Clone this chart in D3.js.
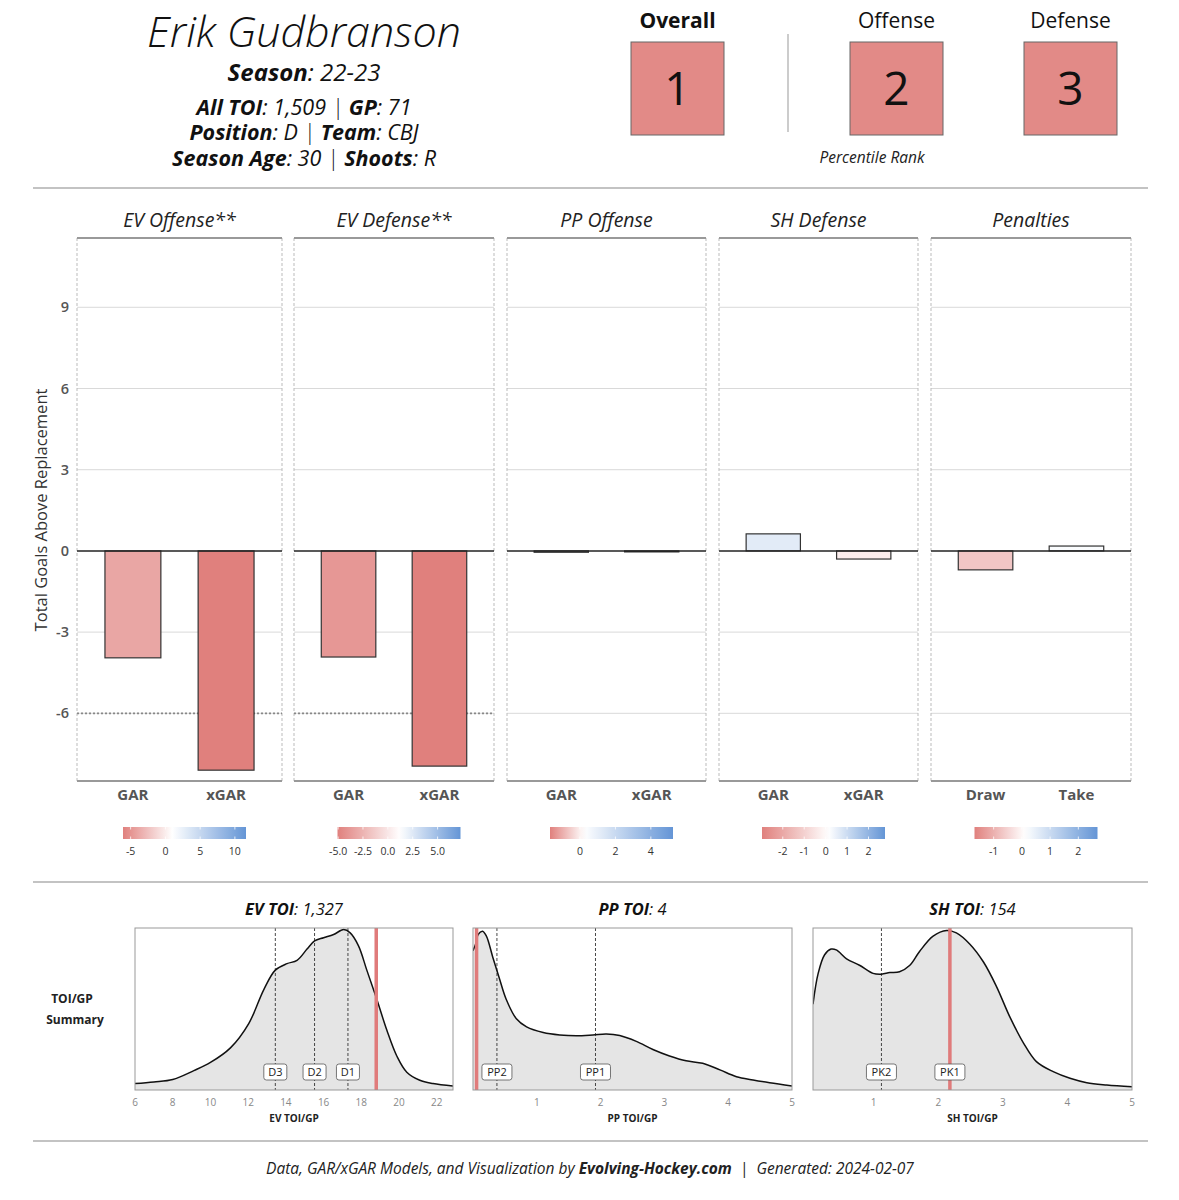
<!DOCTYPE html>
<html><head><meta charset="utf-8">
<script src="https://cdn.jsdelivr.net/npm/d3@7"></script>
<style>
body{margin:0;background:#fff;}
svg{font-family:"Open Sans","Noto Sans",sans-serif;}
</style></head>
<body>
<svg id="c" width="1179" height="1200"></svg>
<script>
// ---------- DATA ----------
const playerName = "Erik Gudbranson";
const infoLines = [
  [["Season", "22-23"]],
  [["All TOI", "1,509"], ["GP", "71"]],
  [["Position", "D"], ["Team", "CBJ"]],
  [["Season Age", "30"], ["Shoots", "R"]]
];
const rankLabels = ["Overall", "Offense", "Defense"];
const rankValues = [1, 2, 3];

const facetTitles = ["EV Offense**", "EV Defense**", "PP Offense", "SH Defense", "Penalties"];
const facetCategories = [["GAR","xGAR"],["GAR","xGAR"],["GAR","xGAR"],["GAR","xGAR"],["Draw","Take"]];
const facetValues = [[-3.95,-8.1],[-3.92,-7.95],[-0.05,-0.02],[0.63,-0.3],[-0.7,0.18]];
const replacementLevel = [-6, -6, null, null, null];
const yTicks = [-6, -3, 0, 3, 6, 9];
const legendDomains = [[-6.1,1.0,11.6],[-5.06,1.2,7.3],[-1.69,0.23,5.25],[-2.97,0.13,2.77],[-1.68,0.1,2.68]];
const legendTickValues = [[-5,0,5,10],[-5,-2.5,0,2.5,5],[0,2,4],[-2,-1,0,1,2],[-1,0,1,2]];
const legendTickLabels = [["-5","0","5","10"],["-5.0","-2.5","0.0","2.5","5.0"],["0","2","4"],["-2","-1","0","1","2"],["-1","0","1","2"]];

const toiTitles = [["EV TOI","1,327"],["PP TOI","4"],["SH TOI","154"]];
const toiAxisTitles = ["EV TOI/GP","PP TOI/GP","SH TOI/GP"];
const toiDomains = [[6,22.86],[0,5],[0.06,5]];
const toiTicks = [[6,8,10,12,14,16,18,20,22],[1,2,3,4,5],[1,2,3,4,5]];
const toiPlayer = [18.79, 0.056, 2.18];
const toiRefNames = [["D3","D2","D1"],["PP2","PP1"],["PK2","PK1"]];
const toiRefValues = [[13.44,15.52,17.29],[0.375,1.92],[1.12,2.18]];
const evDensX = [6,7,8,9.12,10,11.06,12.03,12.83,13.44,14.06,14.59,15.12,15.52,16,16.53,17.06,17.41,17.85,18.29,18.82,19.35,19.88,20.41,21.1,21.8,22.86];
const evDensY = [0.04,0.05,0.065,0.12,0.17,0.26,0.41,0.62,0.74,0.78,0.80,0.87,0.92,0.94,0.96,0.99,0.97,0.89,0.74,0.56,0.37,0.21,0.11,0.06,0.04,0.025];
const ppDensX = [0,0.04,0.08,0.15,0.21,0.31,0.42,0.52,0.68,0.84,1.10,1.36,1.62,1.88,2.09,2.30,2.56,2.82,3.08,3.34,3.60,3.87,4.13,4.39,4.65,5.0];
const ppDensY = [0.86,0.90,0.96,0.98,0.95,0.82,0.68,0.56,0.44,0.39,0.355,0.34,0.335,0.34,0.346,0.336,0.30,0.25,0.21,0.18,0.165,0.124,0.082,0.062,0.045,0.025];
const shDensX = [0.06,0.14,0.24,0.34,0.42,0.58,0.78,0.99,1.12,1.25,1.40,1.56,1.71,1.92,2.13,2.28,2.49,2.70,2.90,3.11,3.32,3.52,3.78,4.04,4.30,4.61,5.0];
const shDensY = [0.53,0.72,0.835,0.87,0.865,0.81,0.77,0.72,0.715,0.725,0.73,0.77,0.855,0.95,0.985,0.97,0.90,0.79,0.64,0.45,0.29,0.175,0.113,0.072,0.045,0.031,0.02];
const toiDensX = [evDensX, ppDensX, shDensX];
const toiDensY = [evDensY, ppDensY, shDensY];
const footerParts = [["Data, GAR/xGAR Models, and Visualization by ",400],["Evolving-Hockey.com",700],["  |  Generated: 2024-02-07",400]];

// ---------- DRAW ----------
const svg = d3.select("#c");
const RED = "#E0807D", BLUE = "#6495D6";

// header
svg.append("text").attr("x",304).attr("y",47).attr("text-anchor","middle")
  .attr("font-size",43).attr("font-style","italic").attr("font-weight",300).attr("fill","#111").text(playerName);
const lineY = [81,115,140,166];
const lineSize = [24,21.5,21.5,21.5];
infoLines.forEach((parts,i)=>{
  const t = svg.append("text").attr("x",304).attr("y",lineY[i]).attr("text-anchor","middle")
    .attr("font-size",lineSize[i]).attr("font-style","italic").attr("fill","#111");
  parts.forEach((p,j)=>{
    if(j>0) t.append("tspan").attr("font-weight",300).text(" | ");
    t.append("tspan").attr("font-weight",700).text(p[0]);
    t.append("tspan").attr("font-weight",400).text(": "+p[1]);
  });
});

// rank boxes
const rankX = [677.5, 896.5, 1070.5];
rankLabels.forEach((l,i)=>{
  svg.append("text").attr("x",rankX[i]).attr("y",28).attr("text-anchor","middle")
    .attr("font-size",21).attr("font-weight",i===0?700:400).attr("fill","#111").text(l);
  svg.append("rect").attr("x",rankX[i]-46.5).attr("y",42).attr("width",93).attr("height",93)
    .attr("fill","#E28A87").attr("stroke","#666").attr("stroke-width",1);
  svg.append("text").attr("x",rankX[i]).attr("y",89).attr("dy","0.35em").attr("text-anchor","middle")
    .attr("font-size",46).attr("fill","#111").text(rankValues[i]);
});
svg.append("line").attr("x1",788).attr("x2",788).attr("y1",34).attr("y2",132).attr("stroke","#bbb").attr("stroke-width",1.5);
svg.append("text").attr("x",872).attr("y",163).attr("text-anchor","middle").attr("font-size",15.5)
  .attr("font-style","italic").attr("font-weight",400).attr("fill","#222").text("Percentile Rank");

// rules
[188,882,1141].forEach(y=>svg.append("line").attr("x1",33).attr("x2",1148).attr("y1",y).attr("y2",y).attr("stroke","#888").attr("stroke-width",1.2));

// facet panels
const panelX = [[77,282],[294,494],[507,706],[719,918],[931,1131]];
const panelTop = 238, panelBot = 781;
const y = d3.scaleLinear().domain([-8.5,11.56]).range([panelBot,panelTop]);

facetTitles.forEach((title,i)=>{
  const [x0,x1] = panelX[i];
  const g = svg.append("g");
  const x = d3.scaleBand().domain(facetCategories[i]).range([x0,x1]).paddingInner(0.4).paddingOuter(0.3);
  yTicks.filter(v=>v!==0).forEach(v=>{
    g.append("line").attr("x1",x0).attr("x2",x1).attr("y1",y(v)).attr("y2",y(v)).attr("stroke","#d9d9d9").attr("stroke-width",1);
  });
  [x0,x1].forEach(xx=>g.append("line").attr("x1",xx).attr("x2",xx).attr("y1",panelTop).attr("y2",panelBot)
    .attr("stroke","#bbb").attr("stroke-width",1).attr("stroke-dasharray","3,2"));
  g.append("line").attr("x1",x0).attr("x2",x1).attr("y1",panelTop).attr("y2",panelTop).attr("stroke","#999").attr("stroke-width",2);
  g.append("line").attr("x1",x0).attr("x2",x1).attr("y1",panelBot).attr("y2",panelBot).attr("stroke","#999").attr("stroke-width",2);
  if(replacementLevel[i]!==null){
    g.append("line").attr("x1",x0).attr("x2",x1).attr("y1",y(replacementLevel[i])).attr("y2",y(replacementLevel[i]))
      .attr("stroke","#888").attr("stroke-width",1.8).attr("stroke-dasharray","2,2");
  }
  const col = d3.scaleLinear().domain(legendDomains[i]).range([RED,"#ffffff",BLUE]).clamp(true);
  g.selectAll("rect.bar").data(facetValues[i]).enter().append("rect")
    .attr("x",(d,j)=>x(facetCategories[i][j])).attr("width",x.bandwidth())
    .attr("y",d=>y(Math.max(0,d))).attr("height",d=>Math.max(1,Math.abs(y(d)-y(0))))
    .attr("fill",d=>col(d)).attr("stroke","#333").attr("stroke-width",1.2);
  g.append("line").attr("x1",x0).attr("x2",x1).attr("y1",y(0)).attr("y2",y(0)).attr("stroke","#222").attr("stroke-width",1.5);
  g.append("text").attr("x",(x0+x1)/2).attr("y",227).attr("text-anchor","middle").attr("font-size",19.5)
    .attr("font-style","italic").attr("fill","#222").text(title);
  facetCategories[i].forEach(c=>{
    g.append("text").attr("x",x(c)+x.bandwidth()/2).attr("y",800).attr("text-anchor","middle")
      .attr("font-size",15).attr("font-weight",700).attr("fill","#555").text(c);
  });
  const lc = (x0+x1)/2 + 5, lw = 123, lx0 = lc - lw/2;
  const ls = d3.scaleLinear().domain([legendDomains[i][0],legendDomains[i][2]]).range([lx0,lx0+lw]);
  const gid = "lg"+i;
  const grad = svg.append("defs").append("linearGradient").attr("id",gid).attr("x1","0%").attr("x2","100%");
  d3.range(0,1.0001,0.05).forEach(t=>{
    const v = legendDomains[i][0] + t*(legendDomains[i][2]-legendDomains[i][0]);
    grad.append("stop").attr("offset",(t*100)+"%").attr("stop-color",col(v));
  });
  g.append("rect").attr("x",lx0).attr("y",827).attr("width",lw).attr("height",12).attr("fill","url(#"+gid+")");
  legendTickValues[i].forEach((v,k)=>{
    g.append("line").attr("x1",ls(v)).attr("x2",ls(v)).attr("y1",827).attr("y2",829.5).attr("stroke","#fff").attr("stroke-width",1).attr("opacity",0.8);
    g.append("line").attr("x1",ls(v)).attr("x2",ls(v)).attr("y1",836.5).attr("y2",839).attr("stroke","#fff").attr("stroke-width",1).attr("opacity",0.8);
    g.append("text").attr("x",ls(v)).attr("y",855).attr("text-anchor","middle").attr("font-size",10.5)
      .attr("fill","#333").text(legendTickLabels[i][k]);
  });
});

// y axis
yTicks.forEach(v=>{
  svg.append("text").attr("x",69).attr("y",y(v)).attr("dy","0.35em").attr("text-anchor","end")
    .attr("font-size",14.5).attr("font-weight",600).attr("fill","#555").text(v);
});
svg.append("text").attr("transform","translate(47,510) rotate(-90)").attr("text-anchor","middle")
  .attr("font-size",16.5).attr("fill","#333").text("Total Goals Above Replacement");

// TOI/GP summary
const toiPX = [[135,453],[473,792],[813,1132]];
const toiTop = 928, toiBot = 1090;
svg.append("text").attr("x",72).attr("y",1003).attr("text-anchor","middle").attr("font-size",12).attr("font-weight",700).attr("fill","#222").text("TOI/GP");
svg.append("text").attr("x",75).attr("y",1024).attr("text-anchor","middle").attr("font-size",12).attr("font-weight",700).attr("fill","#222").text("Summary");

toiTitles.forEach((tt,i)=>{
  const [x0,x1] = toiPX[i];
  const g = svg.append("g");
  const x = d3.scaleLinear().domain(toiDomains[i]).range([x0,x1]);
  const yy = d3.scaleLinear().domain([0,1]).range([toiBot,toiTop]);
  const pts = toiDensX[i].map((v,k)=>[v,toiDensY[i][k]]);
  const clipId = "clip"+i;
  svg.append("defs").append("clipPath").attr("id",clipId).append("rect").attr("x",x0).attr("y",toiTop).attr("width",x1-x0).attr("height",toiBot-toiTop);
  const inner = g.append("g").attr("clip-path","url(#"+clipId+")");
  inner.append("path").datum(pts).attr("d",d3.area().x(d=>x(d[0])).y0(toiBot).y1(d=>yy(d[1])).curve(d3.curveCatmullRom))
    .attr("fill","#e5e5e5");
  toiRefValues[i].forEach(v=>{
    inner.append("line").attr("x1",x(v)).attr("x2",x(v)).attr("y1",toiTop).attr("y2",toiBot)
      .attr("stroke","#333").attr("stroke-width",0.9).attr("stroke-dasharray","3,2");
  });
  inner.append("path").datum(pts).attr("d",d3.line().x(d=>x(d[0])).y(d=>yy(d[1])).curve(d3.curveCatmullRom))
    .attr("fill","none").attr("stroke","#111").attr("stroke-width",1.5);
  inner.append("line").attr("x1",x(toiPlayer[i])).attr("x2",x(toiPlayer[i])).attr("y1",toiTop).attr("y2",toiBot)
    .attr("stroke","#E07B7B").attr("stroke-width",3.5);
  g.append("rect").attr("x",x0).attr("y",toiTop).attr("width",x1-x0).attr("height",toiBot-toiTop)
    .attr("fill","none").attr("stroke","#999").attr("stroke-width",1);
  toiRefValues[i].forEach((v,k)=>{
    const name = toiRefNames[i][k];
    const w = name.length*7+9;
    g.append("rect").attr("x",x(v)-w/2).attr("y",1064).attr("width",w).attr("height",16).attr("rx",2.5)
      .attr("fill","#fff").attr("stroke","#555").attr("stroke-width",0.8);
    g.append("text").attr("x",x(v)).attr("y",1072.5).attr("dy","0.35em").attr("text-anchor","middle")
      .attr("font-size",11).attr("fill","#222").text(name);
  });
  toiTicks[i].forEach(v=>{
    g.append("text").attr("x",x(v)).attr("y",1106).attr("text-anchor","middle").attr("font-size",10)
      .attr("fill","#888").text(v);
  });
  g.append("text").attr("x",(x0+x1)/2).attr("y",1122).attr("text-anchor","middle").attr("font-size",10)
    .attr("font-weight",700).attr("fill","#222").text(toiAxisTitles[i]);
  const t = g.append("text").attr("x",(x0+x1)/2).attr("y",915).attr("text-anchor","middle")
    .attr("font-size",16.5).attr("font-style","italic").attr("fill","#111");
  t.append("tspan").attr("font-weight",700).text(tt[0]);
  t.append("tspan").attr("font-weight",400).text(": "+tt[1]);
});

// footer
const ft = svg.append("text").attr("x",590).attr("y",1174).attr("text-anchor","middle").attr("font-size",15.5)
  .attr("font-style","italic").attr("fill","#222").attr("xml:space","preserve");
footerParts.forEach(p=>ft.append("tspan").attr("font-weight",p[1]).text(p[0]));
</script>
</body></html>
